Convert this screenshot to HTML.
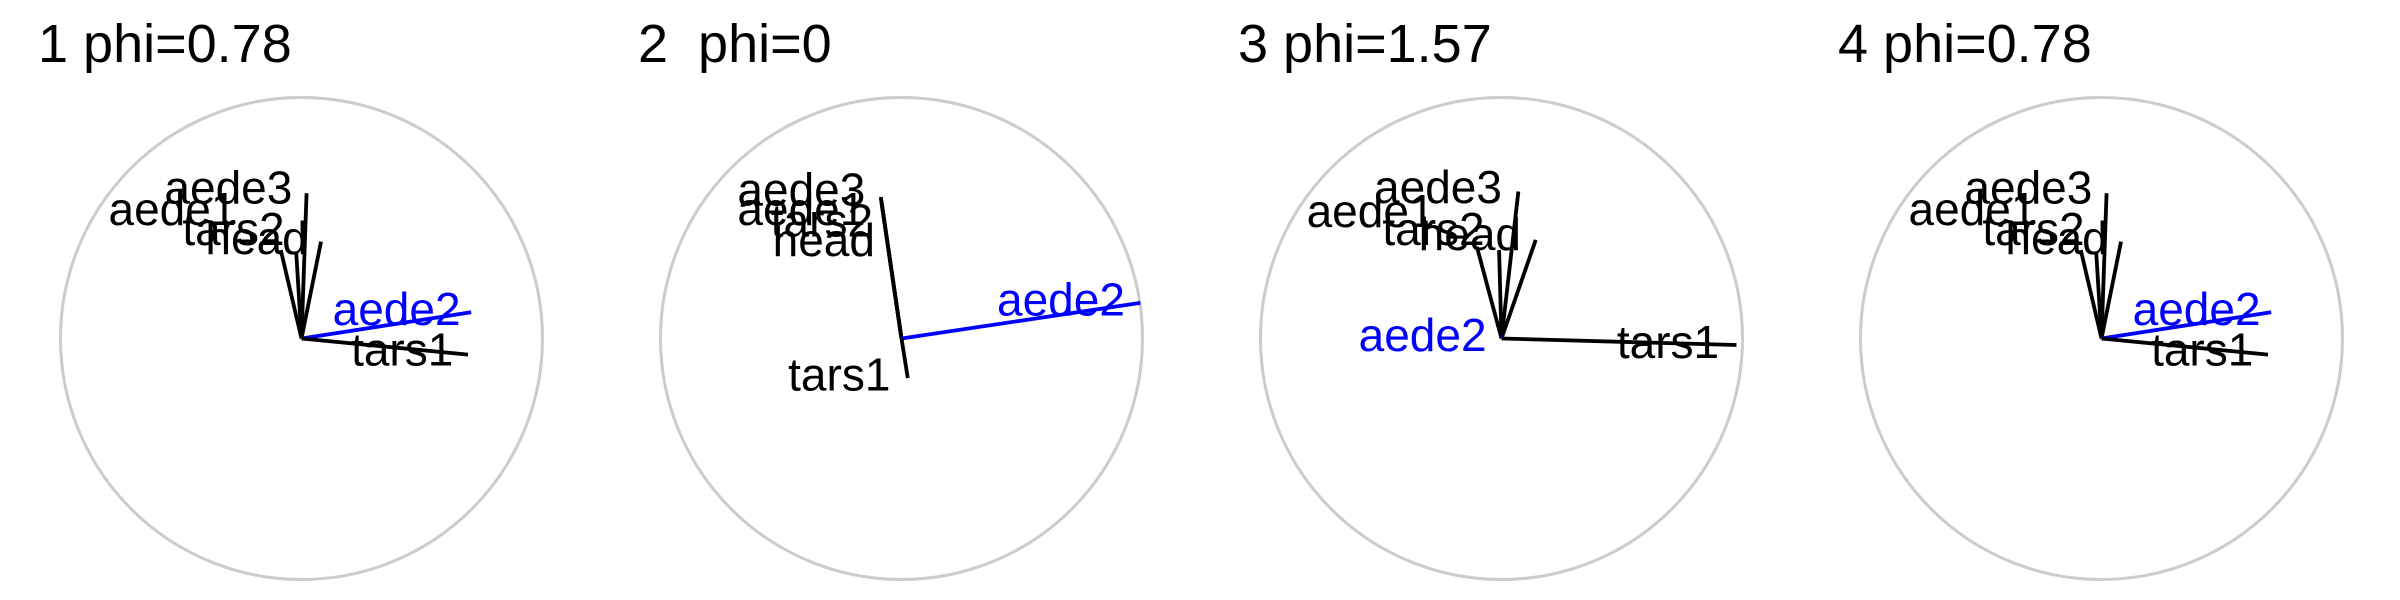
<!DOCTYPE html>
<html><head><meta charset="utf-8">
<style>
html,body{margin:0;padding:0;background:#fff;}
svg{display:block;font-family:"Liberation Sans",sans-serif;}
</style></head>
<body>
<svg id="chart" width="2400" height="600" viewBox="0 0 2400 600" xmlns="http://www.w3.org/2000/svg"></svg>
<script>
const titles = ["1 phi=0.78", "2  phi=0", "3 phi=1.57", "4 phi=0.78"];
const vars = ["aede3", "aede1", "tars2", "head", "aede2", "tars1"];
const highlight = "aede2";
// vector endpoints (unit circle coords, y down)
const vecX = [
  [0.021, -0.086, -0.022, 0.081, 0.704, 0.691],
  [-0.086, -0.085, -0.083, -0.080, 0.991, 0.026],
  [0.070, -0.102, -0.010, 0.142, 0.010, 0.975],
  [0.021, -0.086, -0.022, 0.081, 0.704, 0.691]
];
const vecY = [
  [-0.603, -0.367, -0.359, -0.402, -0.109, 0.067],
  [-0.587, -0.580, -0.565, -0.545, -0.148, 0.164],
  [-0.610, -0.380, -0.367, -0.409, -0.008, 0.027],
  [-0.603, -0.367, -0.359, -0.402, -0.109, 0.067]
];
// label anchors (right edge, baseline) in unit coords
const labX = [
  [-0.038, -0.27, -0.07, 0.026, 0.66, 0.63],
  [-0.15, -0.15, -0.118, -0.11, 0.927, -0.046],
  [0.002, -0.278, -0.07, 0.081, -0.062, 0.903],
  [-0.038, -0.27, -0.07, 0.026, 0.66, 0.63]
];
const labY = [
  [-0.56, -0.471, -0.388, -0.351, -0.056, 0.112],
  [-0.551, -0.471, -0.423, -0.343, -0.096, 0.215],
  [-0.562, -0.463, -0.388, -0.367, 0.051, 0.08],
  [-0.56, -0.471, -0.388, -0.351, -0.056, 0.112]
];
const svg = document.getElementById('chart');
const NS = "http://www.w3.org/2000/svg";
const R = 241;
function px(p, v){ return p*600 + 301.5 + v*R; }
function py(v){ return 338.5 + v*R; }
function mk(tag, attrs){ const e=document.createElementNS(NS,tag); for(const k in attrs) e.setAttribute(k,attrs[k]); return e; }
titles.forEach((t,p)=>{
  const g = mk('g',{});
  
  
  svg.appendChild(g);
  const title = mk('text',{x:p*600+38,y:62,'font-size':54,fill:'#000'});
  title.style.whiteSpace='pre';
  title.textContent = t;
  
  
  g.appendChild(title);
  const c = mk('circle',{cx:px(p,0),cy:py(0),r:R,fill:'none',stroke:'#cccccc','stroke-width':3});
  
  
  g.appendChild(c);
  vars.forEach((v,i)=>{
    const col = v===highlight ? '#0000ff' : '#000000';
    const ln = mk('line',{x1:px(p,0),y1:py(0),x2:px(p,vecX[p][i]),y2:py(vecY[p][i]),stroke:col,'stroke-width':3.8});
    
    
    g.appendChild(ln);
  });
  vars.forEach((v,i)=>{
    const col = v===highlight ? '#0000ff' : '#000000';
    const tx = mk('text',{x:px(p,labX[p][i]),y:py(labY[p][i]),'font-size':46,fill:col,'text-anchor':'end'});
    tx.textContent = v;
    
    
    g.appendChild(tx);
  });
});
</script>
</body></html>
